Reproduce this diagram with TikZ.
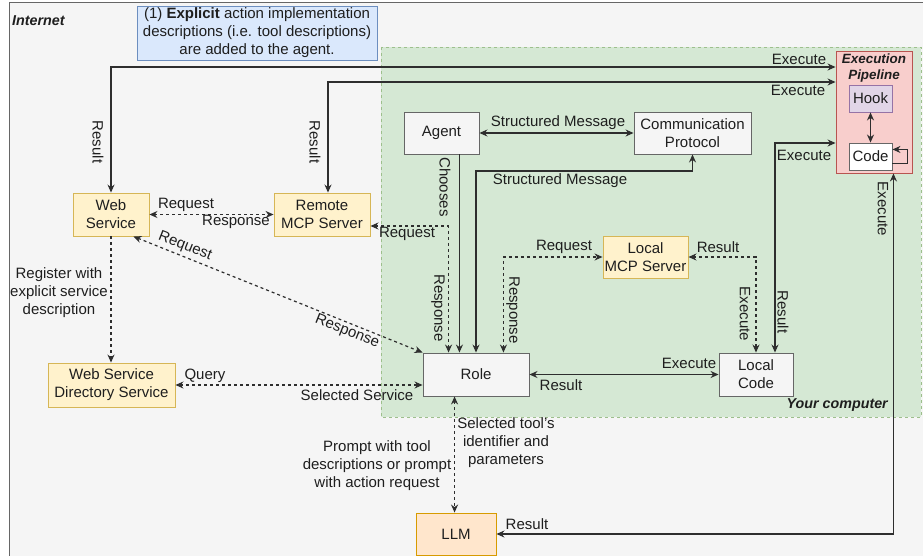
\documentclass[tikz,border=0pt]{standalone}
\usepackage{fontspec}
\setmainfont{Liberation Sans}
\usetikzlibrary{arrows.meta,calc}

\definecolor{txt}{HTML}{1E1E1E}
\definecolor{lin}{HTML}{2E2E2E}
\definecolor{netfill}{HTML}{F5F5F5}
\definecolor{netline}{HTML}{666666}
\definecolor{pcfill}{HTML}{D5E8D4}
\definecolor{pcline}{HTML}{9DBF8C}
\definecolor{notefill}{HTML}{DAE8FC}
\definecolor{noteline}{HTML}{6C8EBF}
\definecolor{yelfill}{HTML}{FFF2CC}
\definecolor{yelline}{HTML}{D6B656}
\definecolor{orafill}{HTML}{FFE6CC}
\definecolor{oraline}{HTML}{D79B00}
\definecolor{redfill}{HTML}{F8CECC}
\definecolor{redline}{HTML}{B85450}
\definecolor{purfill}{HTML}{E1D5E7}
\definecolor{purline}{HTML}{9673A6}
\definecolor{grayfill}{HTML}{F5F5F5}
\definecolor{grayline}{HTML}{666666}

\tikzset{
  box/.style={draw, line width=0.9pt, align=center, inner sep=0pt, text=txt},
  graybox/.style={box, fill=grayfill, draw=grayline},
  yelbox/.style={box, fill=yelfill, draw=yelline},
  link/.style={draw=lin, line width=1.2pt, >={Stealth[length=8pt,width=7pt]}},
  dlink/.style={link, dash pattern=on 3pt off 3pt},
  lab/.style={text=txt, inner sep=0pt, align=center},
  vlab/.style={lab, rotate=-90},
  zone/.style={font=\fontsize{14.3}{17}\selectfont\bfseries\itshape, text=txt, inner sep=0pt}
}

\begin{document}
\begin{tikzpicture}[x=1pt, y=-1pt, font=\fontsize{15}{18}\selectfont]
\useasboundingbox (0,0) rectangle (923,556);
\fill[white] (0,0) rectangle (923,556);

% regions
\draw[fill=netfill, draw=netline, line width=1pt] (9,3) rectangle (940,570);
\draw[fill=pcfill, draw=pcline, line width=0.8pt, dash pattern=on 3pt off 3pt] (381,47) rectangle (921,417);
\node[zone, anchor=west] (internet) at (12,21) {Internet};
\node[zone, anchor=east] (yourpc) at (888,405) {Your computer};

% note
\node[box, fill=notefill, draw=noteline, minimum width=240pt, minimum height=54pt] (note) at (257,33)
  {(1) \textbf{Explicit} action implementation\\descriptions (i.e. tool descriptions)\\are added to the agent.};

% execution pipeline
\node[box, fill=redfill, draw=redline, minimum width=76pt, minimum height=122pt] (pipe) at (874,112) {};
\node[zone, font=\fontsize{13.4}{16.5}\selectfont\bfseries\itshape, align=center] (pipetitle) at (874,68) {Execution\\Pipeline};
\node[box, fill=purfill, draw=purline, minimum width=43pt, minimum height=27pt] (hook) at (870.5,98.5) {Hook};
\node[box, fill=white, draw=grayline, minimum width=43pt, minimum height=27pt] (code) at (870.5,156.5) {Code};

% nodes
\node[graybox, minimum width=75pt, minimum height=42pt] (agent) at (441.5,133) {Agent};
\node[graybox, minimum width=117pt, minimum height=42pt] (comm) at (692.5,133) {Communication\\Protocol};
\node[graybox, minimum width=106pt, minimum height=43pt] (role) at (476,374.5) {Role};
\node[graybox, minimum width=74pt, minimum height=43pt] (lcode) at (756,374.5) {Local\\Code};
\node[yelbox, minimum width=85pt, minimum height=42pt] (lmcp) at (645.5,257) {Local\\MCP Server};
\node[yelbox, minimum width=96pt, minimum height=43pt] (rmcp) at (322,214.5) {Remote\\MCP Server};
\node[yelbox, minimum width=76pt, minimum height=43pt] (ws) at (111,214.5) {Web\\Service};
\node[yelbox, minimum width=127pt, minimum height=44pt] (wsds) at (111.5,385) {Web Service\\Directory Service};
\node[box, fill=orafill, draw=oraline, minimum width=80pt, minimum height=42pt] (llm) at (456,534) {LLM};

% helper points
\coordinate (yA) at (0,67);
\coordinate (yB) at (0,82);
\coordinate (yC) at (0,226);
\coordinate (yD) at (0,171);
\coordinate (yE) at (0,143);
\coordinate (rmTop) at ($(rmcp.north)+(6,0)$);
\coordinate (roleA) at ($(role.north west)+(26,0)$);
\coordinate (roleB) at ($(role.north east)+(-26,0)$);
\coordinate (chs) at ($(agent.south east)+(-20,0)$);
\coordinate (lcA) at ($(lcode.north)+(19,0)$);
\coordinate (roleS) at ($(role.south west)+(32,0)$);
\coordinate (pipeB) at ($(pipe.south east)+(-19,0)$);
\coordinate (wsDiag) at ($(ws.south east)+(-16,0)$);

% connectors
\draw[link,<->] (ws.north) |- (pipe.west |- yA);
\draw[link,<->] (rmTop) |- (pipe.west |- yB);
\draw[dlink,<->] (ws.east) -- (rmcp.west);
\draw[dlink,<->] (rmcp.east |- yC) -| (roleA);
\draw[link,->] (chs) -- (chs |- role.north);
\draw[link,<->] (role.north) |- (yD -| comm.south) -- (comm.south);
\draw[link,<->] (agent.east) -- (comm.west);
\draw[dlink,<->] (roleB) |- (lmcp.west);
\draw[dlink,<->] (lmcp.east) -| (lcode.north);
\draw[link,<->] (lcA) |- (pipe.west |- yE);
\draw[link,<->] (role.east) -- (lcode.west);
\draw[dlink,<->] (wsds.east) -- (role.west |- wsds.east);
\draw[dlink,->] (ws.south) -- (ws.south |- wsds.north);
\draw[dlink,<->] (wsDiag) -- (role.north west);
\draw[dlink,<->] (roleS) -- (roleS |- llm.north);
\draw[link,<->] (pipeB) |- (llm.east);
\draw[link,<->] (hook.south) -- (code.north);
\draw[link,->] ($(code.south east)+(0,-7)$) -- ++(15,0) -- ++(0,-14) -- ++(-15,0);

% connector labels
\node[vlab] (l1) at (98,142) {Result};
\node[lab] (l2) at (799,59) {Execute};
\node[vlab] (l3) at (315,142) {Result};
\node[lab] (l4) at (798,90) {Execute};
\node[lab] (l5) at (558,123) {Structured Message};
\node[vlab] (l6) at (445,187) {Chooses};
\node[lab] (l7) at (560,181) {Structured Message};
\node[lab] (l8) at (186,205) {Request};
\node[lab] (l9) at (236,222) {Response};
\node[lab] (l10) at (407,234) {Request};
\node[vlab] (l11) at (438,308) {Response};
\node[lab, rotate=-21.6] (l12) at (185,246) {Request};
\node[lab, rotate=-21.6] (l13) at (347,332) {Response};
\node[lab] (l14) at (59,293) {Register with\\explicit service\\description};
\node[lab] (l15) at (205,376) {Query};
\node[lab] (l16) at (357,395) {Selected Service};
\node[lab] (l17) at (564,247) {Request};
\node[vlab] (l18) at (513,310) {Response};
\node[lab] (l19) at (718,247) {Result};
\node[vlab] (l20) at (745,314) {Execute};
\node[vlab] (l21) at (783,312) {Result};
\node[lab] (l22) at (804,155) {Execute};
\node[lab] (l23) at (689,363) {Execute};
\node[lab] (l24) at (561,385) {Result};
\node[lab] (l25) at (377,466) {Prompt with tool\\descriptions or prompt\\with action request};
\node[lab] (l26) at (506,443) {Selected tool's\\identifier and\\parameters};
\node[lab] (l27) at (527,524) {Result};
\node[vlab] (l28) at (883,209) {Execute};
\end{tikzpicture}
\end{document}
